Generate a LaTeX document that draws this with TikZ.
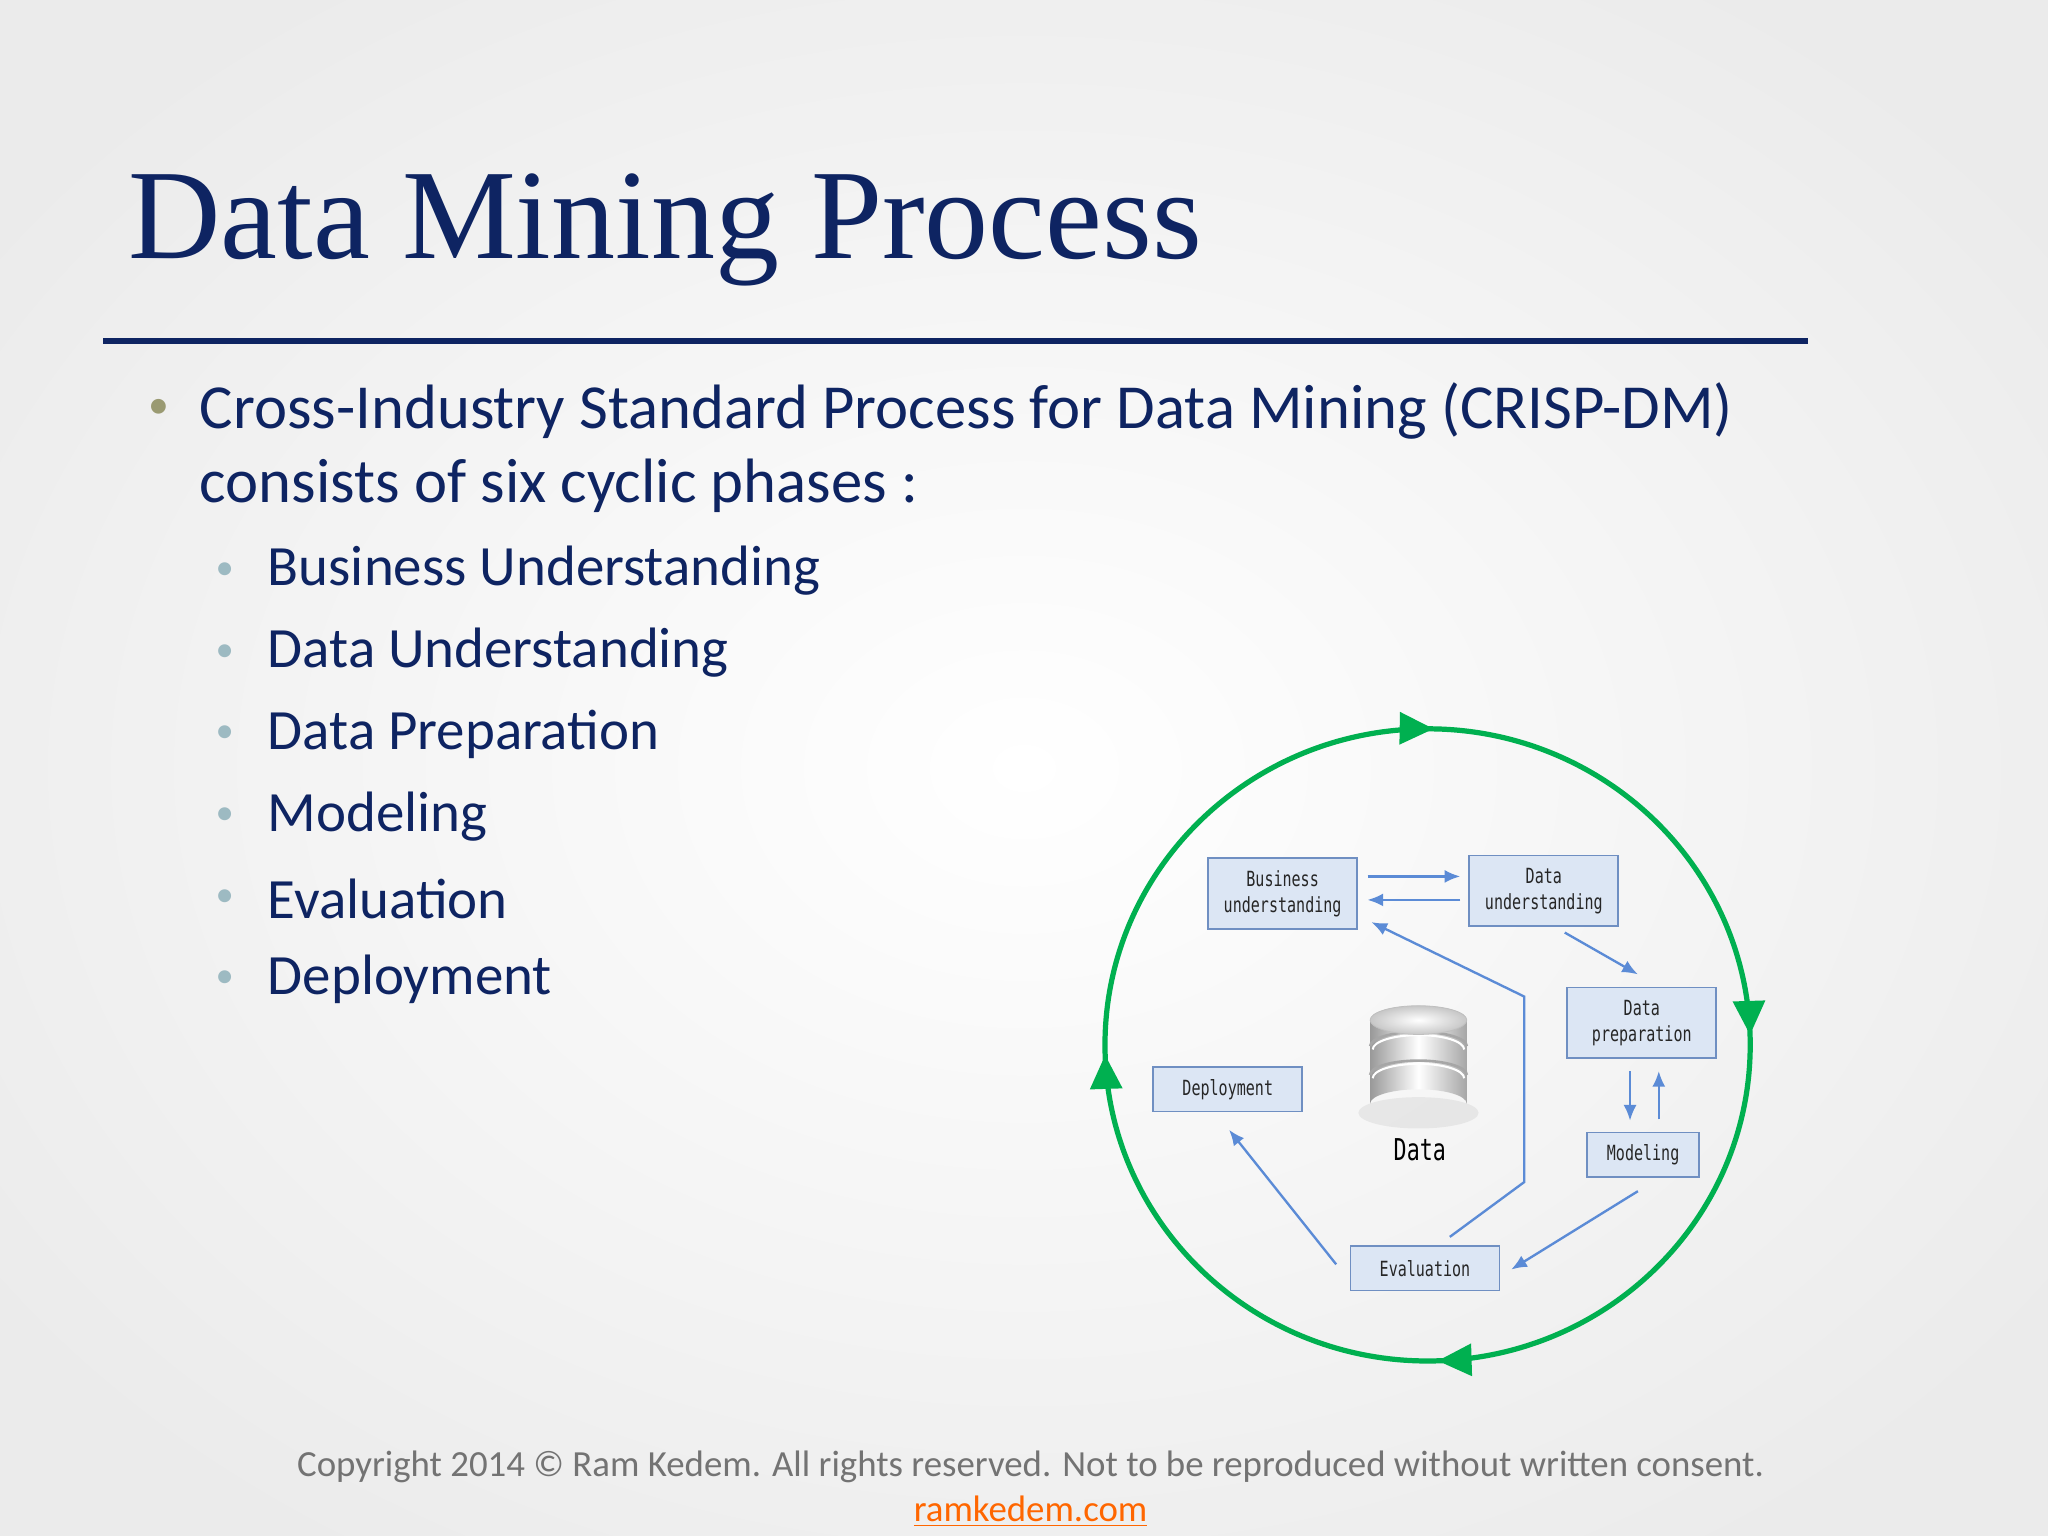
\documentclass[tikz,border=0pt]{standalone}
\usepackage{fontspec}
\setmainfont{Carlito}
\newfontfamily\titlefont{Liberation Serif}
\newfontfamily\boxfont[FakeStretch=0.72]{DejaVu Sans Mono}
\usetikzlibrary{arrows.meta,decorations.markings}
\definecolor{navy}{HTML}{0E2462}
\definecolor{bxfill}{HTML}{DCE6F4}
\definecolor{bxline}{HTML}{6F8FC2}
\definecolor{arr}{HTML}{5B8BD6}
\definecolor{grn}{HTML}{00B050}
\definecolor{bul1}{HTML}{9A9A72}
\definecolor{bul2}{HTML}{9DBAC2}
\tikzset{
  phase/.style={draw=bxline,fill=bxfill,line width=0.7pt,minimum width=57pt,minimum height=27pt,inner sep=1pt,align=center,font=\boxfont\fontsize{8}{10}\selectfont,text=black!85},
  flow/.style={draw=arr,line width=0.9pt,-{Latex[length=6pt,width=5pt]}},
  mainb/.style={anchor=west,text=navy,font=\fontsize{24}{28}\selectfont},
  subb/.style={anchor=west,text=navy,font=\fontsize{21.8}{26}\selectfont},
  gtip/.style={decoration={markings,
  mark=at position 0.003 with {\arrow{Triangle[length=13pt,width=12pt]}},
  mark=at position 0.245 with {\arrow{Triangle[length=13pt,width=12pt]}},
  mark=at position 0.495 with {\arrow{Triangle[length=13pt,width=12pt]}},
  mark=at position 0.745 with {\arrow{Triangle[length=13pt,width=12pt]}}}},
}
\begin{document}
\begin{tikzpicture}[x=0.5pt,y=-0.5pt]
\useasboundingbox (0,0) rectangle (1568,1176);
\shade[inner color=white,outer color=black!8] (-200,-150) rectangle (1768,1326);
% title
\node[anchor=base west,text=navy,font=\titlefont\fontsize{49}{55}\selectfont,inner sep=0] (title) at (98,198) {Data Mining Process};
\coordinate (l1) at (79,261); \coordinate (l2) at (1384,261);
\draw[navy,line width=2pt] (l1) -- (l2);
% bullets
\node[text=bul1,font=\fontsize{16}{16}\selectfont] (b0) at (122,313) {\textbullet};
\node[mainb] (t0) at (146,315) {Cross-Industry Standard Process for Data Mining (CRISP-DM)};
\node[mainb] (t0b) at (146,372) {consists of six cyclic phases :};
\foreach \y/\t [count=\i] in {437/Business Understanding,500/Data Understanding,562/Data Preparation,625/Modeling,688/Evaluation,750/Deployment}{
  \node[text=bul2,font=\fontsize{14}{14}\selectfont] (sb\i) at (172,\y) {\textbullet};
  \node[subb] (st\i) at (198,\y) {\t};
}
% circle
\draw[grn,line width=2pt,postaction={decorate},gtip]
  (1093,558) arc[start angle=-90,end angle=270,x radius=247,y radius=242];
% boxes
\node[phase] (bu) at (982,684) {Business\\understanding};
\node[phase] (du) at (1182,682) {Data\\understanding};
\node[phase] (dp) at (1257,783) {Data\\preparation};
\node[phase,minimum width=43pt,minimum height=17pt] (mo) at (1258,884) {Modeling};
\node[phase,minimum height=17pt] (ev) at (1091,971) {Evaluation};
\node[phase,minimum height=17pt] (de) at (940,834) {Deployment};
% database
\begin{scope}
\fill[black!20,opacity=0.35] (1086,852) ellipse (46 and 12);
\shade[left color=black!40,right color=black!35,middle color=white] (1049,845) arc[start angle=180,end angle=360,x radius=37,y radius=11] -- (1123,781) arc[start angle=0,end angle=-180,x radius=37,y radius=11] -- cycle;
\draw[black!35,line width=1pt] (1049,801) arc[start angle=180,end angle=360,x radius=37,y radius=11];
\draw[black!35,line width=1pt] (1049,823) arc[start angle=180,end angle=360,x radius=37,y radius=11];
\draw[white,line width=0.8pt] (1051,803.5) arc[start angle=180,end angle=360,x radius=35,y radius=11];
\draw[white,line width=0.8pt] (1051,825.5) arc[start angle=180,end angle=360,x radius=35,y radius=11];
\shade[inner color=white,outer color=black!22] (1086,781) ellipse (37 and 11);
\draw[black!25,line width=0.3pt] (1086,781) ellipse (37 and 11);
\end{scope}
\node[font=\boxfont\fontsize{11.5}{13}\selectfont] (dl) at (1087,880) {Data};
% flows
\coordinate (a1) at (1047,671); \coordinate (a2) at (1118,671);
\coordinate (a3) at (1118,689); \coordinate (a4) at (1047,689);
\draw[flow] (a1) -- (a2);
\draw[flow] (a3) -- (a4);
\coordinate (c1) at (1198,714); \coordinate (c2) at (1254,746);
\draw[flow] (c1) -- (c2);
\coordinate (d1) at (1248,820); \coordinate (d2) at (1248,858);
\coordinate (d3) at (1270,857); \coordinate (d4) at (1270,820);
\draw[flow] (d1) -- (d2);
\draw[flow] (d3) -- (d4);
\coordinate (e1) at (1254,912); \coordinate (e2) at (1157,972);
\draw[flow] (e1) -- (e2);
\coordinate (f1) at (1023,968); \coordinate (f2) at (941,865);
\draw[flow] (f1) -- (f2);
\coordinate (g1) at (1110,947); \coordinate (g2) at (1167,905); \coordinate (g3) at (1167,763); \coordinate (g4) at (1050,706);
\draw[flow] (g1) -- (g2) -- (g3) -- (g4);
% footer
\node[text=black!55,font=\fontsize{14.1}{16}\selectfont] (foot) at (789,1123) {Copyright 2014 © Ram Kedem. All rights reserved. Not to be reproduced without written consent.};
\node[text=orange!80!red,font=\fontsize{14.1}{16}\selectfont] (link) at (789,1157) {\underline{ramkedem.com}};
\end{tikzpicture}
\end{document}
